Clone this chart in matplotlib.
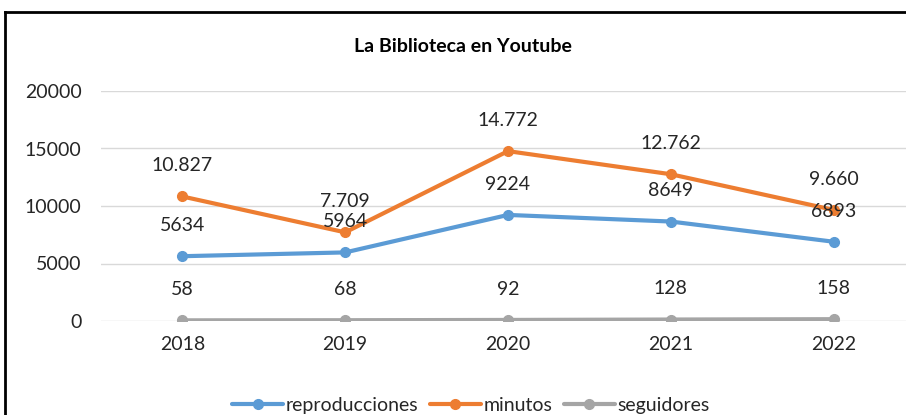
import matplotlib.pyplot as plt
import numpy as np

years = ['2018', '2019', '2020', '2021', '2022']
reproducciones = [5634, 5964, 9224, 8649, 6893]
minutos = [10827, 7709, 14772, 12762, 9660]
seguidores = [58, 68, 92, 128, 158]

plt.rcParams['font.family'] = ['Lato', 'DejaVu Sans']

fig = plt.figure(figsize=(9.06, 4.15), dpi=100)
# the chart is cropped on the right, so the axes run past the figure edge
ax = fig.add_axes([101/906, 94/415, 814/906, 230/415])

x = np.arange(len(years))
series = [
    ('reproducciones', reproducciones, '#5B9BD5', lambda v: str(v)),
    ('minutos', minutos, '#ED7D31', lambda v: f'{v:,}'.replace(',', '.')),
    ('seguidores', seguidores, '#A5A5A5', lambda v: str(v)),
]
for name, vals, col, fmt in series:
    ax.plot(x, vals, color=col, lw=3, marker='o', ms=7, label=name,
            solid_capstyle='round', zorder=3)
    for xi, v in zip(x, vals):
        ax.annotate(fmt(v), (xi, v), xytext=(0, 22), textcoords='offset points',
                    ha='center', va='center', fontsize=14, color='#262626',
                    zorder=4)

ax.set_xlim(-0.5, 4.5)
ax.set_ylim(0, 20000)
ax.set_yticks([0, 5000, 10000, 15000, 20000])
ax.set_xticks(x)
ax.set_xticklabels(years)
ax.grid(axis='y', color='#D9D9D9', lw=1)
ax.set_axisbelow(True)
for s in ax.spines.values():
    s.set_visible(False)
ax.tick_params(length=0, labelsize=14, colors='#262626')
ax.tick_params(axis='y', pad=14)
ax.tick_params(axis='x', pad=11)

fig.text(463/906, 1 - 47/415, 'La Biblioteca en Youtube', ha='center',
         va='center', fontsize=14, fontweight='bold', color='#000000')

leg = fig.legend(loc='center', bbox_to_anchor=(471/906, 1 - 405/415), ncol=3,
                 frameon=False, fontsize=14, handlelength=2.6,
                 columnspacing=0.6, handletextpad=0.15, borderaxespad=0)
for t in leg.get_texts():
    t.set_color('#262626')

# black frame (left and top edges visible in the cropped original)
fig.add_artist(plt.Line2D([5/906, 5/906], [0, 1 - 12/415], color='black',
                          lw=2, transform=fig.transFigure))
fig.add_artist(plt.Line2D([5/906, 1], [1 - 12/415, 1 - 12/415], color='black',
                          lw=2, transform=fig.transFigure))

fig.savefig('out.png', dpi=100)
